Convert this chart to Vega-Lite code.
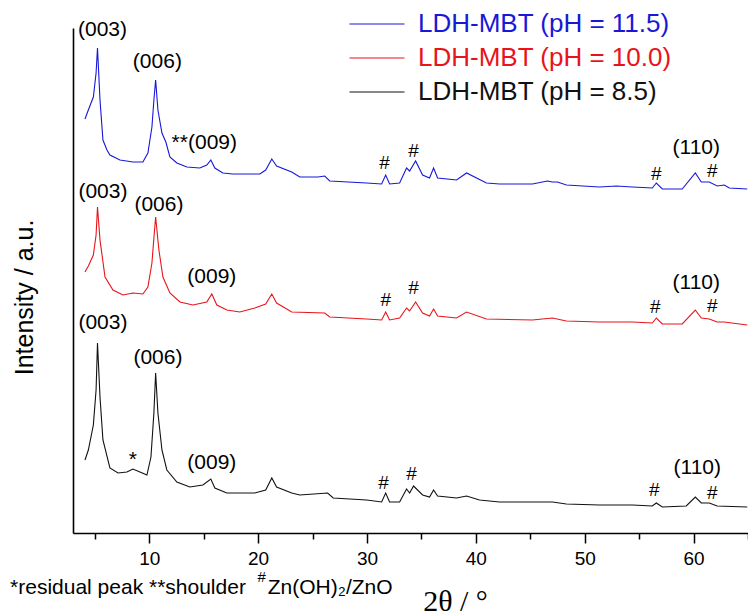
{
  "$schema": "https://vega.github.io/schema/vega-lite/v6.json",
  "autosize": {"type": "none"},
  "width": 675,
  "height": 505,
  "padding": {"left": 73, "top": 28, "right": 0, "bottom": 82},
  "background": "white",
  "config": {"view": {"stroke": null}, "font": "Liberation Sans"},
  "datasets": {
    "traces": [
      {"sample": "LDH-MBT (pH = 11.5)", "theta": 4.10, "intensity": 414},
      {"sample": "LDH-MBT (pH = 11.5)", "theta": 4.41, "intensity": 423},
      {"sample": "LDH-MBT (pH = 11.5)", "theta": 4.87, "intensity": 436},
      {"sample": "LDH-MBT (pH = 11.5)", "theta": 5.12, "intensity": 460},
      {"sample": "LDH-MBT (pH = 11.5)", "theta": 5.25, "intensity": 485},
      {"sample": "LDH-MBT (pH = 11.5)", "theta": 5.48, "intensity": 433},
      {"sample": "LDH-MBT (pH = 11.5)", "theta": 5.75, "intensity": 393},
      {"sample": "LDH-MBT (pH = 11.5)", "theta": 6.12, "intensity": 383},
      {"sample": "LDH-MBT (pH = 11.5)", "theta": 6.39, "intensity": 378},
      {"sample": "LDH-MBT (pH = 11.5)", "theta": 7.31, "intensity": 373},
      {"sample": "LDH-MBT (pH = 11.5)", "theta": 8.50, "intensity": 371},
      {"sample": "LDH-MBT (pH = 11.5)", "theta": 9.42, "intensity": 371},
      {"sample": "LDH-MBT (pH = 11.5)", "theta": 9.88, "intensity": 380},
      {"sample": "LDH-MBT (pH = 11.5)", "theta": 10.25, "intensity": 406},
      {"sample": "LDH-MBT (pH = 11.5)", "theta": 10.43, "intensity": 433},
      {"sample": "LDH-MBT (pH = 11.5)", "theta": 10.59, "intensity": 453},
      {"sample": "LDH-MBT (pH = 11.5)", "theta": 10.80, "intensity": 423},
      {"sample": "LDH-MBT (pH = 11.5)", "theta": 11.17, "intensity": 400},
      {"sample": "LDH-MBT (pH = 11.5)", "theta": 11.53, "intensity": 391},
      {"sample": "LDH-MBT (pH = 11.5)", "theta": 11.90, "intensity": 376},
      {"sample": "LDH-MBT (pH = 11.5)", "theta": 12.54, "intensity": 370},
      {"sample": "LDH-MBT (pH = 11.5)", "theta": 13.46, "intensity": 366},
      {"sample": "LDH-MBT (pH = 11.5)", "theta": 14.65, "intensity": 365},
      {"sample": "LDH-MBT (pH = 11.5)", "theta": 15.29, "intensity": 368},
      {"sample": "LDH-MBT (pH = 11.5)", "theta": 15.66, "intensity": 373},
      {"sample": "LDH-MBT (pH = 11.5)", "theta": 16.03, "intensity": 365},
      {"sample": "LDH-MBT (pH = 11.5)", "theta": 16.76, "intensity": 360},
      {"sample": "LDH-MBT (pH = 11.5)", "theta": 17.68, "intensity": 359},
      {"sample": "LDH-MBT (pH = 11.5)", "theta": 20.16, "intensity": 359},
      {"sample": "LDH-MBT (pH = 11.5)", "theta": 20.70, "intensity": 363},
      {"sample": "LDH-MBT (pH = 11.5)", "theta": 21.26, "intensity": 374},
      {"sample": "LDH-MBT (pH = 11.5)", "theta": 21.70, "intensity": 367},
      {"sample": "LDH-MBT (pH = 11.5)", "theta": 23.09, "intensity": 361},
      {"sample": "LDH-MBT (pH = 11.5)", "theta": 23.83, "intensity": 356},
      {"sample": "LDH-MBT (pH = 11.5)", "theta": 25.50, "intensity": 356},
      {"sample": "LDH-MBT (pH = 11.5)", "theta": 26.12, "intensity": 357},
      {"sample": "LDH-MBT (pH = 11.5)", "theta": 26.58, "intensity": 352},
      {"sample": "LDH-MBT (pH = 11.5)", "theta": 29.97, "intensity": 350},
      {"sample": "LDH-MBT (pH = 11.5)", "theta": 31.35, "intensity": 349},
      {"sample": "LDH-MBT (pH = 11.5)", "theta": 31.72, "intensity": 358},
      {"sample": "LDH-MBT (pH = 11.5)", "theta": 32.08, "intensity": 349},
      {"sample": "LDH-MBT (pH = 11.5)", "theta": 33.00, "intensity": 350},
      {"sample": "LDH-MBT (pH = 11.5)", "theta": 33.64, "intensity": 365},
      {"sample": "LDH-MBT (pH = 11.5)", "theta": 33.92, "intensity": 362},
      {"sample": "LDH-MBT (pH = 11.5)", "theta": 34.47, "intensity": 372},
      {"sample": "LDH-MBT (pH = 11.5)", "theta": 35.11, "intensity": 358},
      {"sample": "LDH-MBT (pH = 11.5)", "theta": 35.75, "intensity": 355},
      {"sample": "LDH-MBT (pH = 11.5)", "theta": 36.12, "intensity": 365},
      {"sample": "LDH-MBT (pH = 11.5)", "theta": 36.49, "intensity": 355},
      {"sample": "LDH-MBT (pH = 11.5)", "theta": 38.23, "intensity": 353},
      {"sample": "LDH-MBT (pH = 11.5)", "theta": 39.15, "intensity": 360},
      {"sample": "LDH-MBT (pH = 11.5)", "theta": 40.98, "intensity": 350},
      {"sample": "LDH-MBT (pH = 11.5)", "theta": 42.17, "intensity": 349},
      {"sample": "LDH-MBT (pH = 11.5)", "theta": 45.20, "intensity": 349},
      {"sample": "LDH-MBT (pH = 11.5)", "theta": 46.58, "intensity": 352},
      {"sample": "LDH-MBT (pH = 11.5)", "theta": 47.04, "intensity": 351},
      {"sample": "LDH-MBT (pH = 11.5)", "theta": 47.50, "intensity": 351},
      {"sample": "LDH-MBT (pH = 11.5)", "theta": 48.32, "intensity": 348},
      {"sample": "LDH-MBT (pH = 11.5)", "theta": 51.35, "intensity": 346},
      {"sample": "LDH-MBT (pH = 11.5)", "theta": 52.91, "intensity": 347},
      {"sample": "LDH-MBT (pH = 11.5)", "theta": 54.38, "intensity": 346},
      {"sample": "LDH-MBT (pH = 11.5)", "theta": 56.21, "intensity": 345},
      {"sample": "LDH-MBT (pH = 11.5)", "theta": 56.58, "intensity": 350},
      {"sample": "LDH-MBT (pH = 11.5)", "theta": 57.13, "intensity": 344},
      {"sample": "LDH-MBT (pH = 11.5)", "theta": 58.96, "intensity": 344},
      {"sample": "LDH-MBT (pH = 11.5)", "theta": 60.16, "intensity": 360},
      {"sample": "LDH-MBT (pH = 11.5)", "theta": 60.71, "intensity": 351},
      {"sample": "LDH-MBT (pH = 11.5)", "theta": 61.44, "intensity": 351},
      {"sample": "LDH-MBT (pH = 11.5)", "theta": 62.17, "intensity": 347},
      {"sample": "LDH-MBT (pH = 11.5)", "theta": 62.82, "intensity": 348},
      {"sample": "LDH-MBT (pH = 11.5)", "theta": 63.28, "intensity": 345},
      {"sample": "LDH-MBT (pH = 11.5)", "theta": 64.93, "intensity": 344},

      {"sample": "LDH-MBT (pH = 10.0)", "theta": 4.10, "intensity": 261},
      {"sample": "LDH-MBT (pH = 10.0)", "theta": 4.41, "intensity": 267},
      {"sample": "LDH-MBT (pH = 10.0)", "theta": 4.87, "intensity": 278},
      {"sample": "LDH-MBT (pH = 10.0)", "theta": 5.12, "intensity": 298},
      {"sample": "LDH-MBT (pH = 10.0)", "theta": 5.25, "intensity": 326},
      {"sample": "LDH-MBT (pH = 10.0)", "theta": 5.48, "intensity": 293},
      {"sample": "LDH-MBT (pH = 10.0)", "theta": 5.94, "intensity": 256},
      {"sample": "LDH-MBT (pH = 10.0)", "theta": 6.67, "intensity": 243},
      {"sample": "LDH-MBT (pH = 10.0)", "theta": 7.59, "intensity": 238},
      {"sample": "LDH-MBT (pH = 10.0)", "theta": 8.50, "intensity": 240},
      {"sample": "LDH-MBT (pH = 10.0)", "theta": 9.42, "intensity": 239},
      {"sample": "LDH-MBT (pH = 10.0)", "theta": 9.88, "intensity": 246},
      {"sample": "LDH-MBT (pH = 10.0)", "theta": 10.25, "intensity": 270},
      {"sample": "LDH-MBT (pH = 10.0)", "theta": 10.43, "intensity": 295},
      {"sample": "LDH-MBT (pH = 10.0)", "theta": 10.59, "intensity": 316},
      {"sample": "LDH-MBT (pH = 10.0)", "theta": 10.89, "intensity": 283},
      {"sample": "LDH-MBT (pH = 10.0)", "theta": 11.26, "intensity": 256},
      {"sample": "LDH-MBT (pH = 10.0)", "theta": 11.90, "intensity": 240},
      {"sample": "LDH-MBT (pH = 10.0)", "theta": 12.82, "intensity": 231},
      {"sample": "LDH-MBT (pH = 10.0)", "theta": 14.01, "intensity": 228},
      {"sample": "LDH-MBT (pH = 10.0)", "theta": 15.29, "intensity": 231},
      {"sample": "LDH-MBT (pH = 10.0)", "theta": 15.75, "intensity": 239},
      {"sample": "LDH-MBT (pH = 10.0)", "theta": 16.21, "intensity": 228},
      {"sample": "LDH-MBT (pH = 10.0)", "theta": 17.13, "intensity": 223},
      {"sample": "LDH-MBT (pH = 10.0)", "theta": 18.32, "intensity": 221},
      {"sample": "LDH-MBT (pH = 10.0)", "theta": 19.70, "intensity": 225},
      {"sample": "LDH-MBT (pH = 10.0)", "theta": 20.70, "intensity": 229},
      {"sample": "LDH-MBT (pH = 10.0)", "theta": 21.26, "intensity": 239},
      {"sample": "LDH-MBT (pH = 10.0)", "theta": 21.70, "intensity": 230},
      {"sample": "LDH-MBT (pH = 10.0)", "theta": 23.09, "intensity": 221},
      {"sample": "LDH-MBT (pH = 10.0)", "theta": 26.12, "intensity": 220},
      {"sample": "LDH-MBT (pH = 10.0)", "theta": 26.58, "intensity": 216},
      {"sample": "LDH-MBT (pH = 10.0)", "theta": 29.97, "intensity": 214},
      {"sample": "LDH-MBT (pH = 10.0)", "theta": 31.35, "intensity": 213},
      {"sample": "LDH-MBT (pH = 10.0)", "theta": 31.72, "intensity": 221},
      {"sample": "LDH-MBT (pH = 10.0)", "theta": 32.08, "intensity": 213},
      {"sample": "LDH-MBT (pH = 10.0)", "theta": 33.00, "intensity": 215},
      {"sample": "LDH-MBT (pH = 10.0)", "theta": 33.64, "intensity": 225},
      {"sample": "LDH-MBT (pH = 10.0)", "theta": 33.92, "intensity": 222},
      {"sample": "LDH-MBT (pH = 10.0)", "theta": 34.47, "intensity": 231},
      {"sample": "LDH-MBT (pH = 10.0)", "theta": 35.11, "intensity": 220},
      {"sample": "LDH-MBT (pH = 10.0)", "theta": 35.75, "intensity": 217},
      {"sample": "LDH-MBT (pH = 10.0)", "theta": 36.12, "intensity": 224},
      {"sample": "LDH-MBT (pH = 10.0)", "theta": 36.49, "intensity": 217},
      {"sample": "LDH-MBT (pH = 10.0)", "theta": 38.23, "intensity": 215},
      {"sample": "LDH-MBT (pH = 10.0)", "theta": 39.15, "intensity": 221},
      {"sample": "LDH-MBT (pH = 10.0)", "theta": 40.98, "intensity": 214},
      {"sample": "LDH-MBT (pH = 10.0)", "theta": 45.20, "intensity": 213},
      {"sample": "LDH-MBT (pH = 10.0)", "theta": 47.04, "intensity": 215},
      {"sample": "LDH-MBT (pH = 10.0)", "theta": 48.32, "intensity": 212},
      {"sample": "LDH-MBT (pH = 10.0)", "theta": 51.35, "intensity": 211},
      {"sample": "LDH-MBT (pH = 10.0)", "theta": 54.38, "intensity": 211},
      {"sample": "LDH-MBT (pH = 10.0)", "theta": 56.21, "intensity": 210},
      {"sample": "LDH-MBT (pH = 10.0)", "theta": 56.58, "intensity": 215},
      {"sample": "LDH-MBT (pH = 10.0)", "theta": 57.13, "intensity": 209},
      {"sample": "LDH-MBT (pH = 10.0)", "theta": 58.96, "intensity": 209},
      {"sample": "LDH-MBT (pH = 10.0)", "theta": 60.16, "intensity": 223},
      {"sample": "LDH-MBT (pH = 10.0)", "theta": 60.71, "intensity": 215},
      {"sample": "LDH-MBT (pH = 10.0)", "theta": 61.44, "intensity": 214},
      {"sample": "LDH-MBT (pH = 10.0)", "theta": 62.17, "intensity": 211},
      {"sample": "LDH-MBT (pH = 10.0)", "theta": 62.82, "intensity": 211},
      {"sample": "LDH-MBT (pH = 10.0)", "theta": 64.93, "intensity": 208},

      {"sample": "LDH-MBT (pH = 8.5)", "theta": 4.10, "intensity": 73},
      {"sample": "LDH-MBT (pH = 8.5)", "theta": 4.41, "intensity": 83},
      {"sample": "LDH-MBT (pH = 8.5)", "theta": 4.87, "intensity": 108},
      {"sample": "LDH-MBT (pH = 8.5)", "theta": 5.12, "intensity": 143},
      {"sample": "LDH-MBT (pH = 8.5)", "theta": 5.25, "intensity": 190},
      {"sample": "LDH-MBT (pH = 8.5)", "theta": 5.48, "intensity": 136},
      {"sample": "LDH-MBT (pH = 8.5)", "theta": 5.75, "intensity": 93},
      {"sample": "LDH-MBT (pH = 8.5)", "theta": 6.39, "intensity": 65},
      {"sample": "LDH-MBT (pH = 8.5)", "theta": 7.13, "intensity": 60},
      {"sample": "LDH-MBT (pH = 8.5)", "theta": 7.95, "intensity": 61},
      {"sample": "LDH-MBT (pH = 8.5)", "theta": 8.50, "intensity": 64},
      {"sample": "LDH-MBT (pH = 8.5)", "theta": 9.15, "intensity": 61},
      {"sample": "LDH-MBT (pH = 8.5)", "theta": 9.79, "intensity": 58},
      {"sample": "LDH-MBT (pH = 8.5)", "theta": 10.16, "intensity": 76},
      {"sample": "LDH-MBT (pH = 8.5)", "theta": 10.43, "intensity": 120},
      {"sample": "LDH-MBT (pH = 8.5)", "theta": 10.59, "intensity": 160},
      {"sample": "LDH-MBT (pH = 8.5)", "theta": 10.80, "intensity": 120},
      {"sample": "LDH-MBT (pH = 8.5)", "theta": 11.17, "intensity": 83},
      {"sample": "LDH-MBT (pH = 8.5)", "theta": 11.62, "intensity": 63},
      {"sample": "LDH-MBT (pH = 8.5)", "theta": 12.54, "intensity": 51},
      {"sample": "LDH-MBT (pH = 8.5)", "theta": 13.73, "intensity": 46},
      {"sample": "LDH-MBT (pH = 8.5)", "theta": 14.93, "intensity": 48},
      {"sample": "LDH-MBT (pH = 8.5)", "theta": 15.66, "intensity": 54},
      {"sample": "LDH-MBT (pH = 8.5)", "theta": 16.03, "intensity": 45},
      {"sample": "LDH-MBT (pH = 8.5)", "theta": 17.13, "intensity": 40},
      {"sample": "LDH-MBT (pH = 8.5)", "theta": 19.70, "intensity": 40},
      {"sample": "LDH-MBT (pH = 8.5)", "theta": 20.70, "intensity": 43},
      {"sample": "LDH-MBT (pH = 8.5)", "theta": 21.26, "intensity": 55},
      {"sample": "LDH-MBT (pH = 8.5)", "theta": 21.70, "intensity": 46},
      {"sample": "LDH-MBT (pH = 8.5)", "theta": 23.09, "intensity": 40},
      {"sample": "LDH-MBT (pH = 8.5)", "theta": 23.83, "intensity": 38},
      {"sample": "LDH-MBT (pH = 8.5)", "theta": 26.39, "intensity": 40},
      {"sample": "LDH-MBT (pH = 8.5)", "theta": 26.90, "intensity": 35},
      {"sample": "LDH-MBT (pH = 8.5)", "theta": 29.97, "intensity": 33},
      {"sample": "LDH-MBT (pH = 8.5)", "theta": 31.35, "intensity": 31},
      {"sample": "LDH-MBT (pH = 8.5)", "theta": 31.72, "intensity": 40},
      {"sample": "LDH-MBT (pH = 8.5)", "theta": 32.08, "intensity": 31},
      {"sample": "LDH-MBT (pH = 8.5)", "theta": 33.00, "intensity": 31},
      {"sample": "LDH-MBT (pH = 8.5)", "theta": 33.64, "intensity": 44},
      {"sample": "LDH-MBT (pH = 8.5)", "theta": 33.92, "intensity": 40},
      {"sample": "LDH-MBT (pH = 8.5)", "theta": 34.28, "intensity": 47},
      {"sample": "LDH-MBT (pH = 8.5)", "theta": 35.11, "intensity": 38},
      {"sample": "LDH-MBT (pH = 8.5)", "theta": 35.75, "intensity": 36},
      {"sample": "LDH-MBT (pH = 8.5)", "theta": 36.12, "intensity": 43},
      {"sample": "LDH-MBT (pH = 8.5)", "theta": 36.49, "intensity": 37},
      {"sample": "LDH-MBT (pH = 8.5)", "theta": 38.23, "intensity": 35},
      {"sample": "LDH-MBT (pH = 8.5)", "theta": 39.15, "intensity": 37},
      {"sample": "LDH-MBT (pH = 8.5)", "theta": 40.34, "intensity": 33},
      {"sample": "LDH-MBT (pH = 8.5)", "theta": 42.17, "intensity": 31},
      {"sample": "LDH-MBT (pH = 8.5)", "theta": 45.20, "intensity": 31},
      {"sample": "LDH-MBT (pH = 8.5)", "theta": 47.04, "intensity": 31},
      {"sample": "LDH-MBT (pH = 8.5)", "theta": 48.32, "intensity": 29},
      {"sample": "LDH-MBT (pH = 8.5)", "theta": 51.35, "intensity": 28},
      {"sample": "LDH-MBT (pH = 8.5)", "theta": 54.38, "intensity": 28},
      {"sample": "LDH-MBT (pH = 8.5)", "theta": 56.21, "intensity": 27},
      {"sample": "LDH-MBT (pH = 8.5)", "theta": 56.58, "intensity": 30},
      {"sample": "LDH-MBT (pH = 8.5)", "theta": 57.13, "intensity": 26},
      {"sample": "LDH-MBT (pH = 8.5)", "theta": 59.33, "intensity": 27},
      {"sample": "LDH-MBT (pH = 8.5)", "theta": 60.16, "intensity": 36},
      {"sample": "LDH-MBT (pH = 8.5)", "theta": 60.71, "intensity": 30},
      {"sample": "LDH-MBT (pH = 8.5)", "theta": 61.44, "intensity": 30},
      {"sample": "LDH-MBT (pH = 8.5)", "theta": 62.17, "intensity": 27},
      {"sample": "LDH-MBT (pH = 8.5)", "theta": 64.93, "intensity": 26}
    ],
    "labels": [
      {"label": "(003)", "theta": 5.71, "intensity": 503},
      {"label": "(006)", "theta": 10.75, "intensity": 471},
      {"label": "**(009)", "theta": 15.06, "intensity": 390},
      {"label": "#", "theta": 31.62, "intensity": 370},
      {"label": "#", "theta": 34.28, "intensity": 382},
      {"label": "#", "theta": 56.58, "intensity": 359},
      {"label": "(110)", "theta": 60.25, "intensity": 385},
      {"label": "#", "theta": 61.72, "intensity": 362},
      {"label": "(003)", "theta": 5.75, "intensity": 341},
      {"label": "(006)", "theta": 10.89, "intensity": 328},
      {"label": "(009)", "theta": 15.75, "intensity": 256},
      {"label": "#", "theta": 31.72, "intensity": 233},
      {"label": "#", "theta": 34.28, "intensity": 245},
      {"label": "#", "theta": 56.49, "intensity": 226},
      {"label": "(110)", "theta": 60.25, "intensity": 250},
      {"label": "#", "theta": 61.72, "intensity": 227},
      {"label": "(003)", "theta": 5.75, "intensity": 210},
      {"label": "(006)", "theta": 10.80, "intensity": 175},
      {"label": "*", "theta": 8.50, "intensity": 73},
      {"label": "(009)", "theta": 15.75, "intensity": 70},
      {"label": "#", "theta": 31.53, "intensity": 50},
      {"label": "#", "theta": 34.10, "intensity": 59},
      {"label": "#", "theta": 56.40, "intensity": 43},
      {"label": "(110)", "theta": 60.34, "intensity": 65},
      {"label": "#", "theta": 61.72, "intensity": 40}
    ],
    "footnote": [
      {"label": "*residual peak **shoulder", "theta": -2.78, "intensity": -55},
      {"label": "Zn(OH)₂/ZnO", "theta": 20.89, "intensity": -55}
    ],
    "footsup": [
      {"label": "#", "theta": 20.34, "intensity": -44}
    ]
  },
  "layer": [
    {
      "data": {"name": "traces"},
      "mark": {"type": "line", "strokeWidth": 1.1, "clip": false},
      "encoding": {
        "x": {
          "field": "theta", "type": "quantitative",
          "scale": {"domain": [3, 65], "nice": false, "zero": false},
          "axis": {
            "title": "2θ / °",
            "titleFont": "Liberation Serif",
            "titleFontSize": 30,
            "titleFontWeight": "normal",
            "titleColor": "black",
            "titleX": 382,
            "titleY": 77,
            "titleAlign": "center",
            "titleBaseline": "alphabetic",
            "values": [5, 10, 15, 20, 25, 30, 35, 40, 45, 50, 55, 60, 65],
            "labelExpr": "datum.value % 10 === 0 ? datum.label : ''",
            "labelFont": "Liberation Sans",
            "labelFontSize": 19,
            "labelColor": "black",
            "labelPadding": 6,
            "tickSize": {"condition": {"test": "datum.value % 10 === 0", "value": 10}, "value": 6},
            "tickColor": "black",
            "tickWidth": 1.5,
            "domainColor": "black",
            "domainWidth": 1.6,
            "grid": false,
            "labelFlush": false,
            "labelOverlap": false
          }
        },
        "y": {
          "field": "intensity", "type": "quantitative",
          "scale": {"domain": [0, 505], "nice": false, "zero": false},
          "axis": {
            "title": "Intensity / a.u.",
            "titleFont": "Liberation Sans",
            "titleFontSize": 25,
            "titleFontWeight": "normal",
            "titleColor": "black",
            "titleX": -49,
            "titleY": 269,
            "titleAngle": 270,
            "titleAlign": "center",
            "titleBaseline": "middle",
            "ticks": false,
            "labels": false,
            "grid": false,
            "domainColor": "black",
            "domainWidth": 1.6
          }
        },
        "color": {
          "field": "sample", "type": "nominal",
          "scale": {
            "domain": ["LDH-MBT (pH = 11.5)", "LDH-MBT (pH = 10.0)", "LDH-MBT (pH = 8.5)"],
            "range": ["#1818d8", "#e8141a", "#111111"]
          },
          "legend": {
            "orient": "none",
            "legendX": 291,
            "legendY": -17,
            "title": null,
            "padding": 0,
            "symbolType": "M-5,0H5",
            "symbolSize": 121,
            "symbolStrokeWidth": 1.2,
            "labelFont": "Liberation Sans",
            "labelFontSize": 26,
            "labelOffset": 28,
            "labelLimit": 400,
            "rowPadding": 8,
            "encode": {
              "labels": {"update": {"fill": {"scale": "color", "field": "value"}}}
            }
          }
        }
      }
    },
    {
      "data": {"name": "labels"},
      "transform": [{"filter": "datum.label !== '#'"}],
      "mark": {"type": "text", "font": "Liberation Sans", "fontSize": 21, "color": "black", "align": "center", "baseline": "middle", "clip": false},
      "encoding": {
        "x": {"field": "theta", "type": "quantitative"},
        "y": {"field": "intensity", "type": "quantitative"},
        "text": {"field": "label"}
      }
    },
    {
      "data": {"name": "labels"},
      "transform": [{"filter": "datum.label === '#'"}],
      "mark": {"type": "text", "font": "Liberation Sans", "fontSize": 19, "color": "black", "align": "center", "baseline": "middle", "clip": false},
      "encoding": {
        "x": {"field": "theta", "type": "quantitative"},
        "y": {"field": "intensity", "type": "quantitative"},
        "text": {"field": "label"}
      }
    },
    {
      "data": {"name": "footnote"},
      "mark": {"type": "text", "font": "Liberation Sans", "fontSize": 21, "color": "black", "align": "left", "baseline": "middle", "clip": false},
      "encoding": {
        "x": {"field": "theta", "type": "quantitative"},
        "y": {"field": "intensity", "type": "quantitative"},
        "text": {"field": "label"}
      }
    },
    {
      "data": {"name": "footsup"},
      "mark": {"type": "text", "font": "Liberation Sans", "fontSize": 15, "color": "black", "align": "center", "baseline": "middle", "clip": false},
      "encoding": {
        "x": {"field": "theta", "type": "quantitative"},
        "y": {"field": "intensity", "type": "quantitative"},
        "text": {"field": "label"}
      }
    }
  ]
}
